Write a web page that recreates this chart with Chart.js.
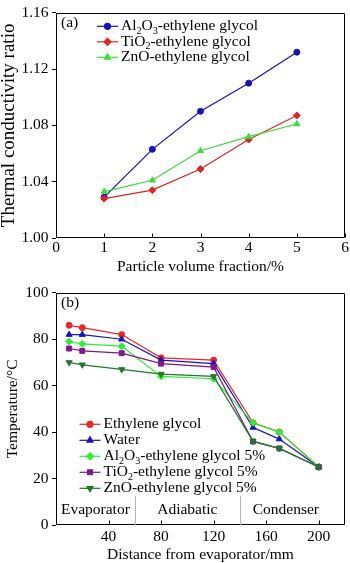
<!DOCTYPE html>
<html>
<head>
<meta charset="utf-8">
<script src="https://cdn.jsdelivr.net/npm/chart.js@4.4.0/dist/chart.umd.min.js"></script>
<style>
html, body { margin: 0; padding: 0; background: #fff; }
canvas { display: block; }
</style>
</head>
<body>
<canvas id="chartA" width="350" height="280"></canvas>
<canvas id="chartB" width="350" height="283"></canvas>
<script>
// (a) thermal conductivity ratio vs particle volume fraction
const FRACTIONS = [1, 2, 3, 4, 5];
const K_AL2O3 = [1.029, 1.063, 1.090, 1.110, 1.132];
const K_TIO2 = [1.028, 1.034, 1.049, 1.070, 1.087];
const K_ZNO = [1.033, 1.041, 1.062, 1.072, 1.081];
const K_TICKS = [1.00, 1.04, 1.08, 1.12, 1.16];
const FRACTION_TICKS = [0, 1, 2, 3, 4, 5, 6];
const LABELS_A = ["Al_2O_3-ethylene glycol", "TiO_2-ethylene glycol", "ZnO-ethylene glycol"];

// (b) wall temperature along the heat pipe
const DISTANCES = [10, 20, 50, 80, 120, 150, 170, 200];
const T_EG = [86, 85, 82, 72, 71, 44, 40, 25];
const T_WATER = [82, 82, 80, 71, 69.5, 42, 37, 25];
const T_AL2O3 = [79, 78, 77, 64, 63, 44, 40, 25];
const T_TIO2 = [76, 75, 74, 69.5, 68, 36, 33, 25];
const T_ZNO = [70, 69, 67, 65, 64, 36, 33, 25];
const T_TICKS = [0, 20, 40, 60, 80, 100];
const DIST_TICKS = [40, 80, 120, 160, 200];
const LABELS_B = ["Ethylene glycol", "Water", "Al_2O_3-ethylene glycol 5%", "TiO_2-ethylene glycol 5%", "ZnO-ethylene glycol 5%"];
const SECTION_NAMES = ["Evaporator", "Adiabatic", "Condenser"];
const SECTION_BOUNDS = [60, 140];
const SECTION_LABEL_X = [30, 100, 175];

const FONT = "'Liberation Serif', 'Times New Roman', serif";
const FS = 15.5;

// text with "_2" style subscripts
function drawRich(ctx, text, x, y, size) {
    const parts = text.split(/_(\d)/);
    let cx = x;
    parts.forEach((p, i) => {
        if (!p) return;
        const sub = i % 2 === 1;
        ctx.font = (sub ? size * 0.65 : size) + "px " + FONT;
        ctx.fillText(p, cx, sub ? y + size * 0.3 : y);
        cx += ctx.measureText(p).width;
    });
}

const seriesKey = {
    id: "seriesKey",
    afterDraw(chart, args, opts) {
        const { ctx, chartArea } = chart;
        ctx.save();
        chart.data.datasets.forEach((ds, i) => {
            const y = chartArea.top + opts.top + i * opts.gap;
            const x0 = chartArea.left + opts.left;
            ctx.strokeStyle = ds.borderColor;
            ctx.fillStyle = ds.borderColor;
            ctx.lineWidth = ds.borderWidth;
            ctx.beginPath();
            ctx.moveTo(x0, y);
            ctx.lineTo(x0 + 21, y);
            ctx.stroke();
            Chart.helpers.drawPoint(ctx, {
                pointStyle: ds.pointStyle, radius: ds.pointRadius,
                rotation: ds.pointRotation || 0, borderWidth: 1
            }, x0 + 10.5, y);
            ctx.fillStyle = "#000";
            ctx.textBaseline = "middle";
            ctx.textAlign = "left";
            drawRich(ctx, ds.label, x0 + 24, y, FS);
        });
        ctx.restore();
    }
};

// box round the plot, inward ticks on the x axis, panel letter
const frame = {
    id: "frame",
    afterDraw(chart, args, opts) {
        const { ctx, chartArea: a, scales: { x } } = chart;
        const L = Math.round(a.left) + 0.5, R = Math.round(a.right) - 0.5;
        const T = Math.round(a.top) + 0.5, B = Math.round(a.bottom) - 0.5;
        ctx.save();
        ctx.strokeStyle = "#000";
        ctx.lineWidth = 1;
        ctx.beginPath();
        ctx.rect(L, T, R - L, B - T);
        x.ticks.forEach(t => {
            const px = Math.round(x.getPixelForValue(t.value)) + 0.5;
            ctx.moveTo(px, B);
            ctx.lineTo(px, B - 4);
        });
        ctx.stroke();
        ctx.fillStyle = "#000";
        ctx.font = FS + "px " + FONT;
        ctx.textBaseline = "middle";
        ctx.textAlign = "left";
        ctx.fillText(opts.text, a.left + 5, a.top + 10);
        ctx.restore();
    }
};

const sections = {
    id: "sections",
    afterDraw(chart) {
        const { ctx, scales: { x, y } } = chart;
        ctx.save();
        ctx.strokeStyle = "#b4b4b4";
        ctx.lineWidth = 1;
        ctx.beginPath();
        SECTION_BOUNDS.forEach(b => {
            const px = Math.round(x.getPixelForValue(b)) + 0.5;
            ctx.moveTo(px, y.getPixelForValue(0));
            ctx.lineTo(px, y.getPixelForValue(12.5));
        });
        ctx.stroke();
        ctx.fillStyle = "#000";
        ctx.font = FS + "px " + FONT;
        ctx.textAlign = "center";
        ctx.textBaseline = "middle";
        SECTION_NAMES.forEach((n, i) => {
            ctx.fillText(n, x.getPixelForValue(SECTION_LABEL_X[i]), y.getPixelForValue(6.5));
        });
        ctx.restore();
    }
};

function series(label, xs, ys, color, style, i, rot) {
    return {
        label, data: xs.map((v, k) => ({ x: v, y: ys[k] })),
        borderColor: color, backgroundColor: color, borderWidth: 1.2,
        pointStyle: style, pointRadius: style === "circle" ? 3 : 3.5,
        pointRotation: rot || 0, pointBorderWidth: 1,
        tension: 0, order: -i
    };
}

function axes(o) {
    return {
        x: {
            type: "linear", min: o.xMin, max: o.xMax,
            afterBuildTicks: s => { s.ticks = o.xTicks.map(v => ({ value: v })); },
            afterFit: s => { s.height = o.xHeight; },
            grid: { display: false, drawTicks: false },
            border: { display: false },
            ticks: { color: "#000", padding: o.xPad, maxRotation: 0, font: { family: FONT, size: FS } },
            title: { display: true, text: o.xTitle, color: "#000", padding: { top: 0, bottom: o.xTitlePad },
                     font: { family: FONT, size: FS, lineHeight: 1 } }
        },
        y: {
            min: o.yMin, max: o.yMax,
            afterBuildTicks: s => { s.ticks = o.yTicks.map(v => ({ value: v })); },
            afterFit: s => { s.width = 56; },
            grid: { drawOnChartArea: false, drawTicks: true, tickLength: 4, color: "#000" },
            border: { display: false },
            ticks: { color: "#000", padding: 3.5, callback: o.yFmt, font: { family: FONT, size: FS } },
            title: { display: true, text: o.yTitle, color: "#000", padding: { top: o.yTitlePad, bottom: 0 },
                     font: { family: FONT, size: o.yTitleSize, lineHeight: 1 } }
        }
    };
}

const common = {
    responsive: false, animation: false,
    plugins: { legend: { display: false }, tooltip: { enabled: false } }
};

new Chart(document.getElementById("chartA"), {
    type: "line",
    data: {
        datasets: [
            series(LABELS_A[0], FRACTIONS, K_AL2O3, "#1414b8", "circle", 0),
            series(LABELS_A[1], FRACTIONS, K_TIO2, "#e02424", "rectRot", 1),
            series(LABELS_A[2], FRACTIONS, K_ZNO, "#3cdc3c", "triangle", 2)
        ]
    },
    options: {
        ...common,
        layout: { padding: { top: 7, right: 3, left: 0, bottom: 0 } },
        scales: axes({
            xMin: 0, xMax: 6, xTicks: FRACTION_TICKS, xHeight: 42, xPad: 1, xTitlePad: 5,
            xTitle: "Particle volume fraction/%",
            yMin: 1.0, yMax: 1.16, yTicks: K_TICKS, yFmt: v => v.toFixed(2),
            yTitle: "Thermal conductivity ratio", yTitleSize: 19, yTitlePad: 0
        }),
        plugins: { ...common.plugins, frame: { text: "(a)" }, seriesKey: { left: 41, top: 13.5, gap: 15.5 } }
    },
    plugins: [frame, seriesKey]
});

new Chart(document.getElementById("chartB"), {
    type: "line",
    data: {
        datasets: [
            series(LABELS_B[0], DISTANCES, T_EG, "#e62828", "circle", 0),
            series(LABELS_B[1], DISTANCES, T_WATER, "#1414b8", "triangle", 1),
            series(LABELS_B[2], DISTANCES, T_AL2O3, "#34ee34", "rectRot", 2),
            series(LABELS_B[3], DISTANCES, T_TIO2, "#7d1a8c", "rect", 3),
            series(LABELS_B[4], DISTANCES, T_ZNO, "#1f7a2a", "triangle", 4, 180)
        ]
    },
    options: {
        ...common,
        layout: { padding: { top: 12, right: 4, left: 0, bottom: 0 } },
        scales: axes({
            xMin: 0, xMax: 220, xTicks: DIST_TICKS, xHeight: 38, xPad: 2.5, xTitlePad: 0.5,
            xTitle: "Distance from evaporator/mm",
            yMin: 0, yMax: 100, yTicks: T_TICKS, yFmt: v => String(v),
            yTitle: "Temperature/°C", yTitleSize: 15.5, yTitlePad: 5
        }),
        plugins: { ...common.plugins, frame: { text: "(b)" }, seriesKey: { left: 23.5, top: 131.5, gap: 16 } }
    },
    plugins: [frame, sections, seriesKey]
});
</script>
</body>
</html>
